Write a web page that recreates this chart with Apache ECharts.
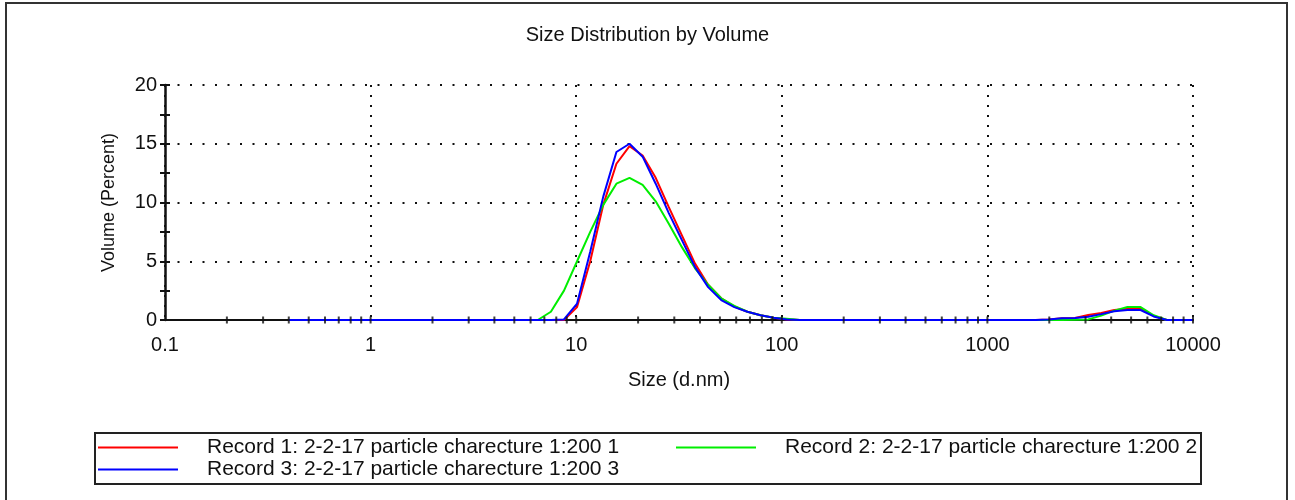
<!DOCTYPE html>
<html>
<head>
<meta charset="utf-8">
<script src="https://cdn.jsdelivr.net/npm/echarts@6/dist/echarts.min.js"></script>
<style>
html,body{margin:0;padding:0;background:#fff;}
#chart{width:1295px;height:500px;}
</style>
</head>
<body>
<div id="chart"></div>
<script>
// Size bins (d.nm)
const sizes = [0.4, 0.4632, 0.5365, 0.6213, 0.7195, 0.8332, 0.9649, 1.117, 1.294, 1.499, 1.736, 2.01, 2.328, 2.696, 3.122, 3.615, 4.187, 4.849, 5.615, 6.503, 7.531, 8.721, 10.1, 11.7, 13.54, 15.69, 18.17, 21.04, 24.36, 28.21, 32.67, 37.84, 43.82, 50.75, 58.77, 68.06, 78.82, 91.28, 105.7, 122.4, 141.8, 164.2, 190.1, 220.2, 255, 295.3, 342, 396.1, 458.7, 531.2, 615.1, 712.4, 825, 955.4, 1106, 1281, 1484, 1718, 1990, 2305, 2669, 3091, 3580, 4145, 4801, 5560, 6439, 7456, 8635, 10000];

// Volume (%) per record
const record1 = [0,0,0,0,0,0,0, 0,0,0,0,0,0,0,0,0,0,0,0,0,0,0,
  1.1, 5.0, 9.8, 13.3, 14.8, 14.0, 12.1, 9.6, 7.2, 4.8, 3.0, 1.85, 1.15, 0.7, 0.4, 0.2,
  0.05, 0,0,0,0,0,0,0,0,0,0,0,0,0,0,0,
  0,0,0,0, 0.05, 0.15, 0.17, 0.42, 0.6, 0.85, 0.95, 1.0, 0.35, 0, 0, 0];
const record2 = [0,0,0,0,0,0,0, 0,0,0,0,0,0,0,0,0,0,0,0,0, 0.7, 2.5,
  5.0, 7.5, 9.8, 11.6, 12.1, 11.5, 10.1, 8.2, 6.2, 4.4, 3.0, 1.85, 1.2, 0.7, 0.4, 0.2,
  0.1, 0,0,0,0,0,0,0,0,0,0,0,0,0,0,0,
  0,0,0,0, 0, 0, 0.02, 0.05, 0.37, 0.8, 1.1, 1.1, 0.4, 0, 0, 0];
const record3 = [0,0,0,0,0,0,0, 0,0,0,0,0,0,0,0,0,0,0,0,0,0, 0.05,
  1.4, 5.8, 10.5, 14.3, 15.0, 13.9, 11.6, 9.1, 6.8, 4.5, 2.8, 1.7, 1.1, 0.7, 0.4, 0.2,
  0.05, 0,0,0,0,0,0,0,0,0,0,0,0,0,0,0,
  0,0,0,0, 0.05, 0.15, 0.17, 0.28, 0.5, 0.74, 0.85, 0.85, 0.3, 0, 0, 0];

const seriesNames = [
  'Record 1: 2-2-17 particle charecture 1:200 1',
  'Record 2: 2-2-17 particle charecture 1:200 2',
  'Record 3: 2-2-17 particle charecture 1:200 3'
];
const seriesColors = ['#ff0000', '#00ee00', '#0000ff'];

// minor tick positions on the size axis
const xTicks = [0.2,0.3,0.4,0.5,0.6,0.7,0.8,0.9,1, 2,3,4,5,6,7,8,9,10, 20,30,40,50,60,70,80,90,100,
  200,300,400,500,600,700,800,900,1000, 2000,3000,4000,5000,6000,7000,8000,9000,10000];

const FONT = "'Liberation Sans', Arial, sans-serif";
const chart = echarts.init(document.getElementById('chart'));

const allData = [record1, record2, record3];
const lineSeries = allData.map((vals, i) => ({
  name: seriesNames[i],
  type: 'line',
  data: sizes.map((s, j) => [s, vals[j]]),
  showSymbol: false,
  symbol: 'none',
  lineStyle: { color: seriesColors[i], width: 2 },
  itemStyle: { color: seriesColors[i] },
  z: 3 + i,
  animation: false
}));

const legendCommon = {
  orient: 'horizontal',
  padding: 0,
  itemWidth: 80,
  itemHeight: 2,
  icon: 'rect',
  selectedMode: false,
  textStyle: { fontSize: 21, color: '#111', fontFamily: FONT, padding: [0, 0, 0, 24] }
};

chart.setOption({
  animation: false,
  backgroundColor: '#fff',
  textStyle: { fontFamily: FONT },
  title: {
    text: 'Size Distribution by Volume',
    left: 'center',
    top: 20,
    textStyle: { fontSize: 20, fontWeight: 'normal', color: '#111', fontFamily: FONT }
  },
  graphic: [
    { type: 'rect', shape: { x: 6, y: 3, width: 1281, height: 510 }, style: { fill: 'none', stroke: '#333', lineWidth: 2 }, silent: true },
    { type: 'rect', shape: { x: 95, y: 433, width: 1106, height: 51 }, style: { fill: 'none', stroke: '#222', lineWidth: 2 }, silent: true }
  ],
  legend: [
    Object.assign({ data: [seriesNames[0]], left: 98, top: 437 }, legendCommon),
    Object.assign({ data: [seriesNames[1]], left: 676, top: 437 }, legendCommon),
    Object.assign({ data: [seriesNames[2]], left: 98, top: 459 }, legendCommon)
  ],
  grid: { left: 165, right: 102, top: 85, bottom: 180, containLabel: false },
  xAxis: {
    type: 'log',
    logBase: 10,
    min: 0.1,
    max: 10000,
    name: 'Size (d.nm)',
    nameLocation: 'middle',
    nameGap: 50,
    nameTextStyle: { fontSize: 20, color: '#111', fontFamily: FONT },
    axisLine: { show: true, onZero: false, lineStyle: { color: '#111', width: 2 } },
    axisTick: { show: false },
    axisLabel: { fontSize: 20, color: '#111', margin: 15, fontFamily: FONT, formatter: v => String(v) },
    splitLine: { show: true, lineStyle: { color: '#111', width: 2, type: [2, 8] } },
    minorSplitLine: { show: false }
  },
  yAxis: [
    {
      type: 'value',
      min: 0,
      max: 20,
      interval: 5,
      name: 'Volume (Percent)',
      nameLocation: 'middle',
      nameGap: 47,
      nameRotate: 90,
      nameTextStyle: { fontSize: 18, color: '#111', fontFamily: FONT },
      axisLine: { show: true, lineStyle: { color: '#111', width: 2.5 } },
      axisTick: { show: true, inside: false, length: 5, lineStyle: { color: '#111', width: 2 } },
      minorTick: { show: true, splitNumber: 2, length: 5, lineStyle: { color: '#111', width: 2 } },
      axisLabel: { fontSize: 20, color: '#111', margin: 8, fontFamily: FONT },
      splitLine: { show: true, lineStyle: { color: '#111', width: 2, type: [2, 10.5] } }
    },
    {
      type: 'value',
      min: 0,
      max: 20,
      interval: 5,
      position: 'left',
      axisLine: { show: false },
      axisTick: { show: true, inside: true, length: 5, lineStyle: { color: '#111', width: 2 } },
      minorTick: { show: true, splitNumber: 2, length: 5, lineStyle: { color: '#111', width: 2 } },
      axisLabel: { show: false },
      splitLine: { show: false }
    }
  ],
  series: lineSeries.concat([{
    type: 'scatter',
    data: xTicks.map(v => [v, 0]),
    symbol: 'rect',
    symbolSize: [2, 7],
    itemStyle: { color: '#111' },
    silent: true,
    z: 10,
    clip: false,
    animation: false
  }])
});
</script>
</body>
</html>
